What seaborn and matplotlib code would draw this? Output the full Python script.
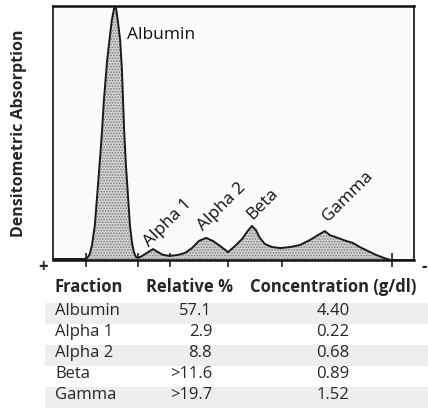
import numpy as np
import pandas as pd
import matplotlib
matplotlib.use("Agg")
import matplotlib.pyplot as plt
import seaborn as sns
from matplotlib.patches import Rectangle

# densitometer trace (x: migration 0-100, y: absorption 0-100)
trace_x = [0, 9.1, 9.7, 10.2, 10.8, 11.6, 12.2, 13.0, 13.6, 14.1, 15.0, 15.8, 16.3, 16.9,
           17.2, 17.5, 18.0, 18.6, 19.1, 19.4, 19.7, 20.2, 20.8, 21.3, 21.9, 22.4, 23.0,
           23.5, 24.7, 26.0, 27.7, 29.1, 30.5, 32.4, 34.6, 36.6, 38.5, 40.4, 42.4, 44.3,
           46.3, 48.5, 50.4, 52.4, 53.7, 55.1, 56.2, 57.3, 58.7, 60.7, 62.9, 65.7, 68.4,
           71.2, 73.4, 75.3, 76.7, 78.9, 81.2, 83.1, 85.0, 87.3, 89.5, 91.7, 93.4, 100]
trace_y = [0.4, 0.4, 1.2, 2.4, 5.9, 13.8, 24.8, 39.4, 51.2, 63.0, 78.7, 88.6, 94.5, 98.8,
           99.6, 98.8, 93.7, 86.6, 74.8, 63.0, 51.2, 37.4, 24.8, 13.8, 6.7, 3.1, 1.2,
           0.8, 1.6, 2.8, 4.3, 3.1, 2.0, 1.6, 2.0, 2.8, 4.7, 7.5, 8.7, 7.5,
           5.5, 3.1, 5.5, 8.3, 11.0, 13.4, 11.8, 8.7, 6.3, 5.1, 4.7, 5.1, 5.9,
           7.9, 9.8, 11.4, 9.8, 8.7, 7.5, 6.7, 5.1, 3.5, 2.0, 0.8, 0.0, 0.0]

# fraction boundaries (tick marks)
boundaries = [9.1, 23.5, 32.4, 48.5, 63.4, 93.9]

# peak labels
peak_names = ["Albumin", "Alpha 1", "Alpha 2", "Beta", "Gamma"]
peak_x = [20.5, 31.9, 46.8, 57.9, 81.6]
peak_y = [88.6, 14.6, 20.9, 22.0, 24.8]

# table
fractions = ["Albumin", "Alpha 1", "Alpha 2", "Beta", "Gamma"]
relative_pct = ["57.1", "2.9", "8.8", ">11.6", ">19.7"]
concentration = ["4.40", "0.22", "0.68", "0.89", "1.52"]

W, H = 428, 408
sns.set_style("white")
plt.rcParams['font.family'] = ['Open Sans', 'DejaVu Sans']
plt.rcParams['hatch.linewidth'] = 0.8

fig = plt.figure(figsize=(W / 100, H / 100), dpi=100)
ax = fig.add_axes([53 / W, 1 - 260 / H, 361 / W, 254 / H])
ax.set_facecolor("#fafafa")

df = pd.DataFrame({"x": trace_x, "y": trace_y})
ax.fill_between(df["x"], 0, df["y"], facecolor="#d4d4d4", edgecolor="#7a7a7a",
                hatch="......", linewidth=0, zorder=2)
sns.lineplot(data=df, x="x", y="y", ax=ax, color="#1a1a1a", linewidth=1.4, zorder=3)

ax.set_xlim(0, 100)
ax.set_ylim(0, 100)
for s in ax.spines.values():
    s.set_color("#111111")
    s.set_linewidth(1.2)
ax.spines["top"].set_linewidth(1.8)
ax.spines["bottom"].set_linewidth(1.8)

ax.set_xticks(boundaries)
ax.set_xticklabels([])
ax.set_yticks([])
ax.tick_params(axis="x", direction="inout", length=10, width=1.1, color="#111111", bottom=True)
ax.set_xlabel("")
ax.set_ylabel("Densitometric Absorption", fontsize=11.5, fontweight="bold", labelpad=19)

for i, name in enumerate(peak_names):
    if i == 0:
        ax.text(peak_x[i], peak_y[i], name, fontsize=12.5, ha="left", va="center", color="#111111")
    else:
        ax.text(peak_x[i], peak_y[i], name, fontsize=12.5, ha="center", va="center",
                rotation=45, rotation_mode="anchor", color="#111111")

def fx(px):
    return px / W

def fy(py):
    return 1 - py / H

fig.text(fx(43), fy(267), "+", fontsize=12, ha="center", va="center", fontweight="bold")
fig.text(fx(424), fy(267), "-", fontsize=12, ha="center", va="center", fontweight="bold")

# table header
hdr_y = 287
fig.text(fx(55), fy(hdr_y), "Fraction", fontsize=12, fontweight="bold", ha="left", va="center")
fig.text(fx(233), fy(hdr_y), "Relative %", fontsize=12, fontweight="bold", ha="right", va="center")
fig.text(fx(333), fy(hdr_y), "Concentration (g/dl)", fontsize=12, fontweight="bold",
         ha="center", va="center")

row0, step = 311, 21
for i in range(len(fractions)):
    cy = row0 + step * i
    if i % 2 == 0:
        fig.add_artist(Rectangle((fx(45), fy(cy + 12.5)), (428 - 45) / W, 21 / H,
                                 transform=fig.transFigure, facecolor="#eeeeee",
                                 edgecolor="none", zorder=0))
    fig.text(fx(55), fy(cy), fractions[i], fontsize=12, ha="left", va="center")
    fig.text(fx(212), fy(cy), relative_pct[i], fontsize=12, ha="right", va="center")
    fig.text(fx(333), fy(cy), concentration[i], fontsize=12, ha="center", va="center")

fig.savefig("out.png", dpi=100)
